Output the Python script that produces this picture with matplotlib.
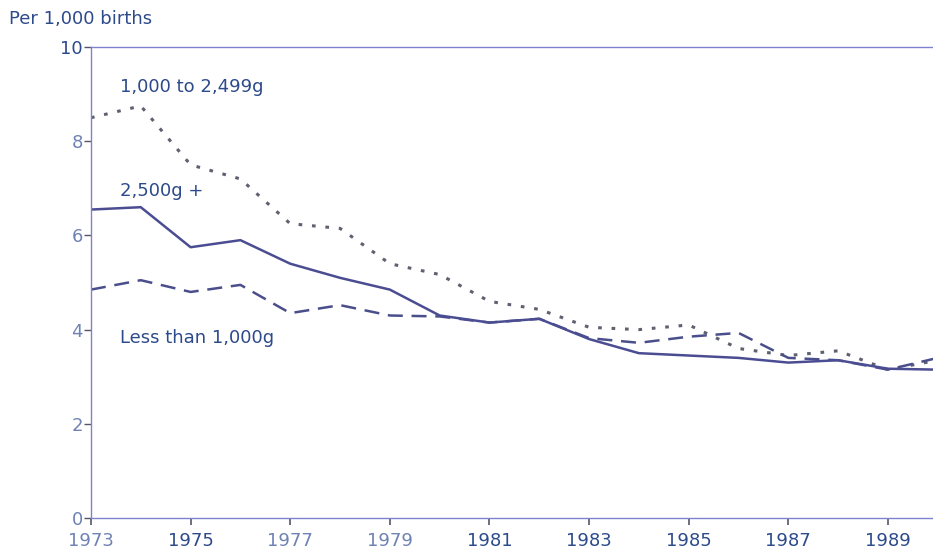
import numpy as np
import matplotlib.pyplot as plt

plt.rcParams['font.family'] = ['DejaVu Sans']

years = list(range(1973, 1991))
# 2,500g +
heavy = [6.55, 6.6, 5.75, 5.9, 5.4, 5.1, 4.85, 4.3, 4.15, 4.23, 3.8, 3.5, 3.45, 3.4, 3.3, 3.35, 3.17, 3.15]
# 1,000 to 2,499g
mid = [8.5, 8.75, 7.5, 7.2, 6.25, 6.15, 5.4, 5.17, 4.6, 4.43, 4.05, 4.0, 4.1, 3.6, 3.45, 3.55, 3.15, 3.35]
# Less than 1,000g
light = [4.85, 5.05, 4.8, 4.95, 4.35, 4.52, 4.3, 4.28, 4.15, 4.23, 3.82, 3.72, 3.85, 3.93, 3.4, 3.35, 3.15, 3.4]

xticks = list(range(1973, 1990, 2))
dark_years = [1975, 1981, 1983, 1985, 1987, 1989]

axis_col = '#8080d0'
dark_blue = '#2d4a8a'
light_blue = '#6f82b4'

fig = plt.figure(figsize=(9.33, 5.54), dpi=100)
ax = fig.add_axes([0.0975, 0.065, 0.9025, 0.85])

ax.plot(years, mid, color='#5f6070', lw=2.2, linestyle=(0, (1.2, 3.2)), dash_capstyle='butt')
ax.plot(years, light, color='#4a4f8c', lw=1.8, linestyle=(0, (6, 3.5)))
ax.plot(years, heavy, color='#4b4d92', lw=1.8)

ax.set_xlim(1973, 1973 + 842 / 49.81)
ax.set_ylim(0, 10)
ax.set_xticks(xticks)
ax.set_xticklabels([str(y) for y in xticks], fontsize=13)
for lab, y in zip(ax.get_xticklabels(), xticks):
    lab.set_color(dark_blue if y in dark_years else light_blue)
ax.set_yticks([0, 2, 4, 6, 8, 10])
ax.set_yticklabels(['0', '2', '4', '6', '8', '10'], fontsize=13)
for lab in ax.get_yticklabels():
    lab.set_color(light_blue)
ax.get_yticklabels()[-1].set_color(dark_blue)

ax.tick_params(axis='x', direction='out', length=5, width=1.2, color='#555566', pad=5)
ax.tick_params(axis='y', direction='out', length=5, width=1, color='#555566', pad=1)

for s in ['left', 'bottom', 'top']:
    ax.spines[s].set_color(axis_col)
    ax.spines[s].set_linewidth(1)
ax.spines['right'].set_visible(False)

fig.text(0.01, 0.965, 'Per 1,000 births', fontsize=13, color=dark_blue, va='center')
ax.text(1973.58, 9.15, '1,000 to 2,499g', fontsize=13, color=dark_blue, va='center')
ax.text(1973.58, 6.94, '2,500g +', fontsize=13, color=dark_blue, va='center')
ax.text(1973.58, 3.83, 'Less than 1,000g', fontsize=13, color=dark_blue, va='center')

fig.savefig('out.png', dpi=100)
